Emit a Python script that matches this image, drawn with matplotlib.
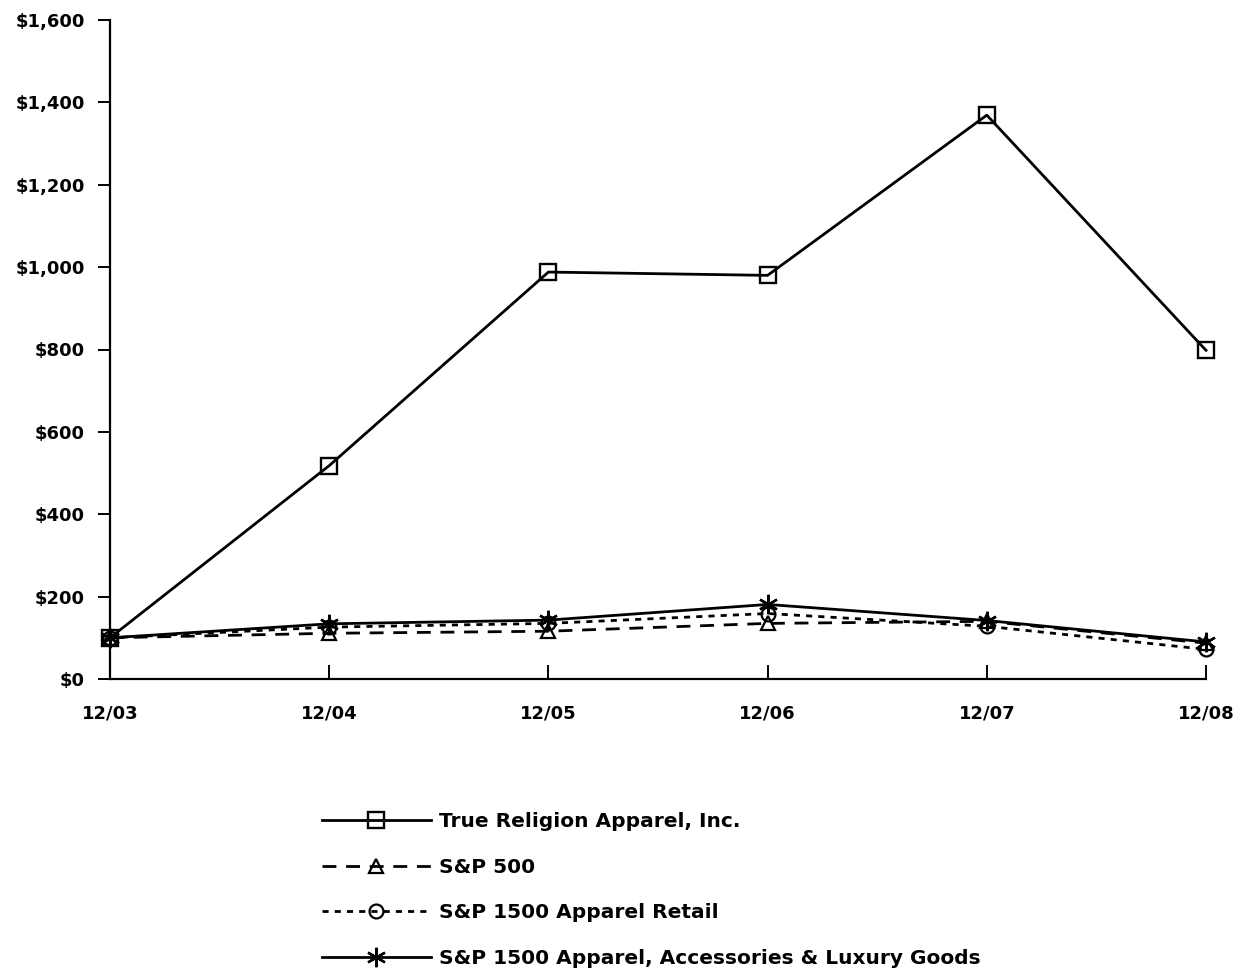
import matplotlib
matplotlib.use("Agg")
import matplotlib.pyplot as plt
from matplotlib.ticker import FuncFormatter

# data
periods = ["12/03", "12/04", "12/05", "12/06", "12/07", "12/08"]
true_religion = [100, 518, 988, 980, 1369, 798]
sp500 = [100, 111, 116, 135, 140, 87]
apparel_retail = [100, 126, 135, 159, 128, 72]
apparel_lux = [100, 134, 143, 181, 142, 90]

series_names = [
    "True Religion Apparel, Inc.",
    "S&P 500",
    "S&P 1500 Apparel Retail",
    "S&P 1500 Apparel, Accessories & Luxury Goods",
]


def money(v, pos):
    return "${:,.0f}".format(v)


def main():
    plt.rcParams['font.family'] = ['DejaVu Sans']
    plt.rcParams['font.weight'] = 'bold'

    fig = plt.figure(figsize=(12.46, 9.73), dpi=100)
    ax = fig.add_axes([110 / 1246, 1 - 679 / 973, (1206 - 110) / 1246, (679 - 20) / 973])

    x = list(range(len(periods)))
    lw = 2.0
    ax.plot(x, true_religion, color='black', lw=lw, marker='s', ms=11,
            mfc='none', mec='black', mew=1.7, clip_on=False, label=series_names[0], zorder=5)
    ax.plot(x, sp500, color='black', lw=lw, ls=(0, (5, 3.5)), marker='^', ms=10,
            mfc='none', mec='black', mew=1.6, clip_on=False, label=series_names[1], zorder=3)
    ax.plot(x, apparel_retail, color='black', lw=lw, ls=(0, (2.2, 2.2)), marker='o', ms=10,
            mfc='none', mec='black', mew=1.6, clip_on=False, label=series_names[2], zorder=3)
    ax.plot(x, apparel_lux, color='black', lw=lw, marker=(6, 2, 0), ms=14,
            mec='black', mew=1.7, clip_on=False, label=series_names[3], zorder=4)

    ax.set_xlim(0, len(periods) - 1)
    ax.set_ylim(0, 1600)
    ax.set_yticks(range(0, 1601, 200))
    ax.yaxis.set_major_formatter(FuncFormatter(money))
    ax.set_xticks(x)
    ax.set_xticklabels(periods)

    for s in ['top', 'right']:
        ax.spines[s].set_visible(False)
    for s in ['left', 'bottom']:
        ax.spines[s].set_linewidth(1.6)

    ax.tick_params(axis='y', direction='out', length=9, width=1.4, pad=9, labelsize=13)
    ax.tick_params(axis='x', direction='in', length=10, width=1.4, pad=18, labelsize=13)
    for lab in ax.get_xticklabels() + ax.get_yticklabels():
        lab.set_fontweight('bold')

    fig.legend(loc='upper left', bbox_to_anchor=(322 / 1246, 1 - 812 / 973),
               frameon=False, prop={'size': 14.5, 'weight': 'bold'},
               handlelength=5.4, handletextpad=0.4, labelspacing=1.32,
               borderpad=0, borderaxespad=0)

    fig.savefig("out.png", dpi=100)


if __name__ == "__main__":
    main()
